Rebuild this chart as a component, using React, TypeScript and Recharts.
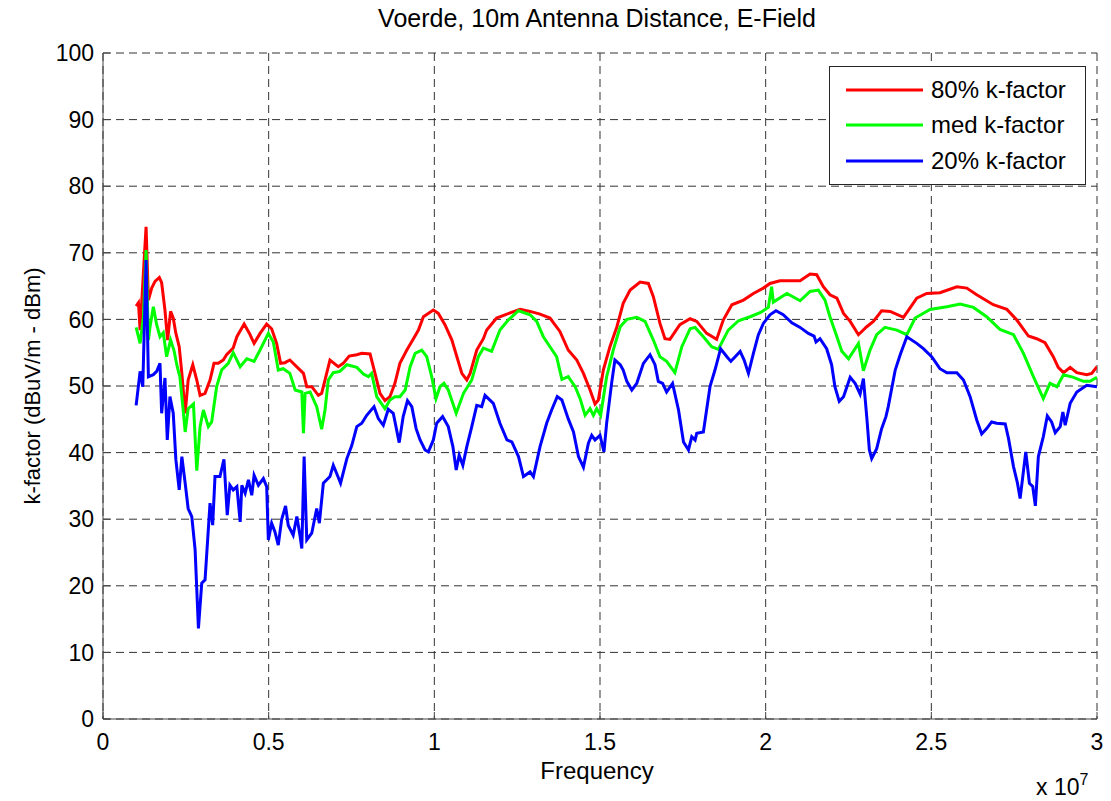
import React from "react";
import { CartesianGrid, Line, LineChart, XAxis, YAxis } from "recharts";

// frequency in MHz, k-factor in dB
const kFactor80: [number, number][] = [
  [1.0, 62.0], [1.07, 62.5], [1.12, 58.4], [1.3, 73.9], [1.37, 62.9], [1.47, 64.7],
  [1.57, 65.7], [1.7, 66.3], [1.77, 65.5], [1.87, 61.4], [1.95, 56.9], [2.04, 61.2],
  [2.12, 60.2], [2.2, 57.9], [2.3, 55.9], [2.38, 51.9], [2.48, 45.9], [2.57, 50.9],
  [2.71, 53.2], [2.83, 50.9], [2.93, 48.6], [3.08, 48.9], [3.23, 50.9], [3.35, 53.4],
  [3.48, 53.4], [3.63, 53.9], [3.73, 54.7], [3.93, 55.7], [4.04, 57.4], [4.26, 59.3],
  [4.42, 57.9], [4.56, 56.4], [4.74, 57.9], [4.94, 59.3], [5.09, 58.6], [5.24, 56.4],
  [5.36, 53.4], [5.49, 53.5], [5.64, 53.9], [6.05, 51.9], [6.15, 49.9], [6.3, 49.9],
  [6.5, 48.6], [6.6, 48.9], [6.85, 53.9], [7.1, 52.9], [7.25, 53.4], [7.43, 54.5],
  [7.66, 54.7], [7.81, 54.9], [8.06, 54.8], [8.21, 51.9], [8.36, 48.9], [8.51, 47.8],
  [8.66, 48.4], [8.81, 50.4], [8.96, 53.4], [9.17, 55.4], [9.37, 57.1], [9.52, 58.4],
  [9.67, 60.4], [9.97, 61.4], [10.12, 60.9], [10.32, 59.2], [10.53, 56.9], [10.68, 54.4],
  [10.83, 51.9], [10.98, 50.9], [11.08, 51.9], [11.28, 55.4], [11.48, 57.1], [11.58, 58.4],
  [11.88, 60.2], [12.19, 60.8], [12.59, 61.5], [12.89, 61.2], [13.19, 60.8], [13.49, 60.2],
  [13.79, 58.2], [14.04, 55.4], [14.3, 53.9], [14.5, 51.9], [14.7, 49.4], [14.85, 47.3],
  [14.95, 47.9], [15.1, 52.4], [15.3, 55.9], [15.51, 58.9], [15.7, 62.4], [15.91, 64.4],
  [16.21, 65.6], [16.46, 65.4], [16.61, 63.4], [16.81, 59.4], [16.96, 57.1], [17.11, 57.0],
  [17.41, 59.2], [17.72, 60.1], [17.92, 59.7], [18.22, 57.9], [18.52, 57.0], [18.72, 59.9],
  [18.98, 62.2], [19.33, 62.9], [19.63, 63.9], [19.93, 64.7], [20.13, 65.4], [20.43, 65.8],
  [21.04, 65.8], [21.34, 66.8], [21.54, 66.7], [21.74, 64.9], [21.94, 63.7], [22.15, 63.2],
  [22.35, 60.9], [22.55, 59.7], [22.8, 57.7], [23.05, 58.9], [23.25, 59.7], [23.5, 61.3],
  [23.76, 61.2], [24.16, 60.3], [24.56, 63.2], [24.86, 63.9], [25.26, 64.0], [25.77, 64.9],
  [26.07, 64.7], [26.37, 63.7], [26.87, 62.2], [27.28, 61.5], [27.58, 59.9], [27.93, 57.5],
  [28.18, 57.1], [28.43, 56.5], [28.68, 54.4], [28.83, 52.8], [28.99, 52.0], [29.19, 52.8],
  [29.39, 52.0], [29.69, 51.7], [29.84, 51.9], [30.0, 52.9],
];

const kFactorMed: [number, number][] = [
  [1.0, 58.8], [1.12, 56.4], [1.22, 60.4], [1.3, 70.4], [1.37, 56.9], [1.42, 58.9],
  [1.52, 61.9], [1.62, 59.2], [1.72, 57.4], [1.82, 58.0], [1.92, 54.4], [2.04, 56.9],
  [2.14, 55.4], [2.24, 52.9], [2.32, 51.4], [2.41, 46.9], [2.48, 43.1], [2.57, 46.6],
  [2.73, 47.3], [2.83, 37.3], [2.93, 43.9], [3.03, 46.4], [3.18, 43.9], [3.28, 44.6],
  [3.43, 49.9], [3.58, 52.4], [3.78, 53.4], [3.93, 55.0], [4.14, 52.9], [4.34, 54.1],
  [4.56, 53.7], [4.74, 55.4], [4.99, 57.9], [5.14, 56.6], [5.29, 52.4], [5.44, 52.6],
  [5.64, 51.9], [5.8, 49.4], [6.0, 49.1], [6.05, 42.9], [6.1, 48.9], [6.25, 49.1],
  [6.45, 46.9], [6.6, 43.5], [6.7, 46.4], [6.8, 50.9], [6.95, 52.0], [7.15, 52.2],
  [7.36, 53.2], [7.66, 52.8], [7.86, 51.8], [8.01, 51.4], [8.11, 51.9], [8.26, 48.4],
  [8.51, 46.6], [8.66, 47.9], [8.81, 48.4], [8.96, 48.4], [9.12, 49.4], [9.27, 52.9],
  [9.42, 54.9], [9.62, 55.4], [9.77, 54.4], [9.92, 51.4], [10.05, 48.1], [10.17, 49.9],
  [10.29, 50.4], [10.42, 49.4], [10.66, 45.9], [10.88, 48.9], [11.13, 50.9], [11.33, 54.4],
  [11.48, 55.7], [11.73, 55.2], [11.98, 58.4], [12.23, 59.9], [12.54, 61.3], [12.89, 60.7],
  [13.09, 59.7], [13.29, 57.4], [13.49, 55.9], [13.69, 54.4], [13.85, 51.0], [14.04, 51.4],
  [14.25, 49.9], [14.4, 48.1], [14.55, 45.6], [14.7, 46.6], [14.8, 45.6], [14.9, 46.6],
  [15.02, 45.6], [15.2, 51.4], [15.4, 55.4], [15.61, 58.9], [15.81, 60.0], [16.11, 60.3],
  [16.36, 59.7], [16.61, 56.9], [16.81, 54.4], [17.01, 53.7], [17.26, 52.0], [17.47, 55.9],
  [17.72, 58.6], [17.87, 58.8], [18.12, 57.4], [18.37, 55.9], [18.57, 55.5], [18.87, 58.4],
  [19.18, 59.8], [19.53, 60.4], [19.83, 61.0], [20.08, 61.8], [20.18, 64.9], [20.23, 62.6],
  [20.64, 63.9], [21.04, 62.8], [21.34, 64.2], [21.59, 64.4], [21.79, 62.9], [21.94, 60.4],
  [22.15, 57.4], [22.3, 55.2], [22.5, 54.1], [22.8, 56.4], [22.95, 52.3], [23.15, 55.4],
  [23.35, 57.7], [23.6, 58.8], [23.96, 58.4], [24.26, 57.7], [24.51, 60.2], [24.96, 61.5],
  [25.47, 61.9], [25.87, 62.3], [26.27, 61.8], [26.67, 60.4], [27.07, 58.5], [27.48, 57.7],
  [27.78, 54.9], [28.08, 51.4], [28.38, 48.1], [28.58, 50.4], [28.79, 49.9], [28.99, 51.7],
  [29.29, 51.3], [29.59, 50.7], [29.79, 50.7], [30.0, 51.3],
];

const kFactor20: [number, number][] = [
  [1.0, 47.1], [1.12, 52.2], [1.2, 49.9], [1.3, 68.9], [1.37, 51.4], [1.52, 51.7],
  [1.62, 52.2], [1.72, 53.4], [1.77, 45.9], [1.87, 51.2], [1.94, 41.9], [2.02, 48.4],
  [2.12, 45.9], [2.2, 38.9], [2.3, 34.4], [2.38, 39.4], [2.48, 35.4], [2.57, 31.6],
  [2.68, 30.4], [2.78, 25.4], [2.88, 13.6], [2.98, 20.4], [3.08, 20.9], [3.23, 32.4],
  [3.31, 29.1], [3.38, 36.4], [3.53, 36.4], [3.65, 39.0], [3.75, 30.6], [3.83, 35.1],
  [3.93, 34.4], [4.04, 34.9], [4.14, 29.6], [4.19, 35.1], [4.29, 33.9], [4.39, 35.9],
  [4.49, 33.6], [4.56, 36.6], [4.69, 35.1], [4.84, 36.1], [4.94, 34.9], [4.99, 26.9],
  [5.09, 29.4], [5.19, 28.1], [5.29, 26.1], [5.39, 29.9], [5.51, 32.0], [5.59, 29.1],
  [5.74, 27.6], [5.85, 30.4], [5.95, 27.4], [6.0, 25.6], [6.07, 39.4], [6.15, 26.9],
  [6.3, 27.9], [6.45, 31.6], [6.53, 29.4], [6.65, 35.4], [6.85, 36.4], [6.95, 38.1],
  [7.05, 36.9], [7.17, 35.4], [7.36, 39.1], [7.51, 41.1], [7.66, 43.9], [7.81, 44.4],
  [7.96, 45.6], [8.18, 46.9], [8.31, 45.1], [8.46, 44.1], [8.61, 46.5], [8.76, 45.9],
  [8.94, 41.5], [9.06, 45.4], [9.19, 47.8], [9.32, 46.9], [9.45, 43.6], [9.57, 41.9],
  [9.72, 40.4], [9.82, 40.1], [9.97, 41.9], [10.07, 44.4], [10.25, 45.4], [10.42, 43.9],
  [10.56, 40.9], [10.66, 37.4], [10.75, 39.6], [10.86, 38.1], [10.98, 40.9], [11.13, 43.9],
  [11.28, 47.1], [11.43, 46.9], [11.53, 48.6], [11.78, 47.4], [11.98, 44.4], [12.19, 41.9],
  [12.34, 41.6], [12.54, 39.4], [12.69, 36.4], [12.89, 37.1], [12.99, 36.4], [13.19, 40.9],
  [13.39, 44.4], [13.54, 46.4], [13.71, 48.4], [13.85, 47.9], [14.04, 45.1], [14.2, 43.1],
  [14.35, 39.4], [14.5, 37.8], [14.65, 41.4], [14.75, 42.6], [14.85, 41.9], [15.0, 42.6],
  [15.12, 40.1], [15.2, 44.4], [15.35, 50.4], [15.45, 53.9], [15.61, 53.2], [15.7, 52.4],
  [15.81, 50.7], [15.96, 49.4], [16.11, 50.4], [16.31, 53.4], [16.51, 54.7], [16.66, 53.2],
  [16.76, 50.7], [16.89, 50.4], [17.01, 49.1], [17.19, 50.4], [17.37, 46.4], [17.52, 41.6],
  [17.67, 40.4], [17.77, 42.4], [17.87, 41.9], [17.92, 42.9], [18.12, 43.1], [18.32, 49.9],
  [18.47, 52.4], [18.64, 55.6], [18.83, 54.4], [18.95, 53.7], [19.08, 54.4], [19.23, 55.2],
  [19.35, 53.9], [19.48, 51.9], [19.63, 54.9], [19.78, 57.7], [19.93, 59.4], [20.13, 60.7],
  [20.31, 61.3], [20.53, 60.7], [20.79, 59.5], [21.04, 58.8], [21.29, 57.9], [21.46, 57.5],
  [21.52, 56.6], [21.64, 57.1], [21.84, 55.6], [21.99, 53.2], [22.09, 49.9], [22.22, 47.7],
  [22.35, 48.4], [22.55, 51.3], [22.7, 50.4], [22.85, 48.8], [22.95, 51.1], [23.05, 45.4],
  [23.13, 40.4], [23.2, 39.1], [23.35, 40.6], [23.5, 43.6], [23.63, 45.4], [23.7, 46.9],
  [23.91, 52.4], [24.06, 54.7], [24.26, 57.4], [24.56, 56.4], [24.76, 55.6], [25.01, 54.4],
  [25.26, 52.6], [25.47, 52.0], [25.77, 52.0], [25.97, 50.9], [26.17, 48.4], [26.37, 44.9],
  [26.52, 42.8], [26.67, 43.6], [26.82, 44.6], [26.97, 44.4], [27.23, 44.3], [27.33, 42.1],
  [27.48, 37.9], [27.6, 35.4], [27.68, 33.1], [27.76, 36.4], [27.85, 40.1], [27.96, 35.4],
  [28.06, 34.9], [28.14, 32.0], [28.23, 39.4], [28.38, 42.4], [28.5, 45.5], [28.63, 44.6],
  [28.74, 43.0], [28.89, 43.9], [28.97, 46.1], [29.04, 44.1], [29.19, 47.4], [29.39, 49.1],
  [29.69, 50.1], [30.0, 49.9],
];

const freqTicks = [0, 5, 10, 15, 20, 25, 30];
const levelTicks = [0, 10, 20, 30, 40, 50, 60, 70, 80, 90, 100];

const series = [
  { name: "80% k-factor", color: "#FF0000", points: kFactor80 },
  { name: "med k-factor", color: "#00FF00", points: kFactorMed },
  { name: "20% k-factor", color: "#0000FF", points: kFactor20 },
];

const FONT = "'Liberation Sans', Arial, sans-serif";

const toRows = (pts: [number, number][]) => pts.map(([f, k]) => ({ f, k }));

function LegendBox() {
  return (
    <div
      style={{
        position: "absolute",
        left: 829,
        top: 66,
        width: 257,
        height: 119,
        border: "1px solid #262626",
        background: "#fff",
        paddingTop: 5,
        fontSize: 24,
        boxSizing: "border-box",
      }}
    >
      {series.map((s) => (
        <div key={s.name} style={{ display: "flex", alignItems: "center", height: 35.5 }}>
          <svg width={101} height={10} style={{ flex: "none" }}>
            <line x1={16} x2={93} y1={5} y2={5} stroke={s.color} strokeWidth={3} />
          </svg>
          <span style={{ whiteSpace: "nowrap" }}>{s.name}</span>
        </div>
      ))}
    </div>
  );
}

export default function App() {
  return (
    <div
      style={{
        position: "absolute",
        left: 0,
        top: 0,
        width: 1111,
        height: 801,
        background: "#fff",
        fontFamily: FONT,
        color: "#000",
      }}
    >
      <LineChart
        width={1111}
        height={801}
        margin={{ top: 53, right: 14, bottom: 52, left: 43 }}
        style={{ position: "absolute", left: 0, top: 0 }}
      >
        <CartesianGrid stroke="#333" strokeDasharray="8 5" />
        <XAxis
          dataKey="f"
          type="number"
          domain={[0, 30]}
          ticks={freqTicks}
          allowDataOverflow
          height={30}
          tickSize={-7}
          tickMargin={22}
          stroke="#444"
          tick={{ fill: "#000", fontSize: 23, fontFamily: FONT }}
          tickFormatter={(v: number) => String(v / 10)}
        />
        <YAxis
          type="number"
          domain={[0, 100]}
          ticks={levelTicks}
          width={60}
          tickSize={-7}
          tickMargin={16}
          stroke="#444"
          tick={{ fill: "#000", fontSize: 23, fontFamily: FONT }}
        />
        {series.map((s) => (
          <Line
            key={s.name}
            name={s.name}
            data={toRows(s.points)}
            dataKey="k"
            type="linear"
            stroke={s.color}
            strokeWidth={3}
            dot={false}
            isAnimationActive={false}
          />
        ))}
      </LineChart>
      <div
        style={{
          position: "absolute",
          left: 0,
          width: 1194,
          top: 4,
          textAlign: "center",
          fontSize: 25,
          whiteSpace: "nowrap",
        }}
      >
        Voerde, 10m Antenna Distance, E-Field
      </div>
      <div
        style={{
          position: "absolute",
          left: 0,
          width: 1194,
          top: 757,
          textAlign: "center",
          fontSize: 24,
        }}
      >
        Frequency
      </div>
      <div
        style={{
          position: "absolute",
          left: 33,
          top: 386,
          fontSize: 22,
          whiteSpace: "nowrap",
          transform: "translate(-50%, -50%) rotate(-90deg)",
        }}
      >
        k-factor (dBuV/m - dBm)
      </div>
      <div style={{ position: "absolute", left: 1036, top: 772, fontSize: 23, whiteSpace: "nowrap" }}>
        x 10<sup style={{ fontSize: 16, position: "relative", top: -1 }}>7</sup>
      </div>
      <LegendBox />
    </div>
  );
}
